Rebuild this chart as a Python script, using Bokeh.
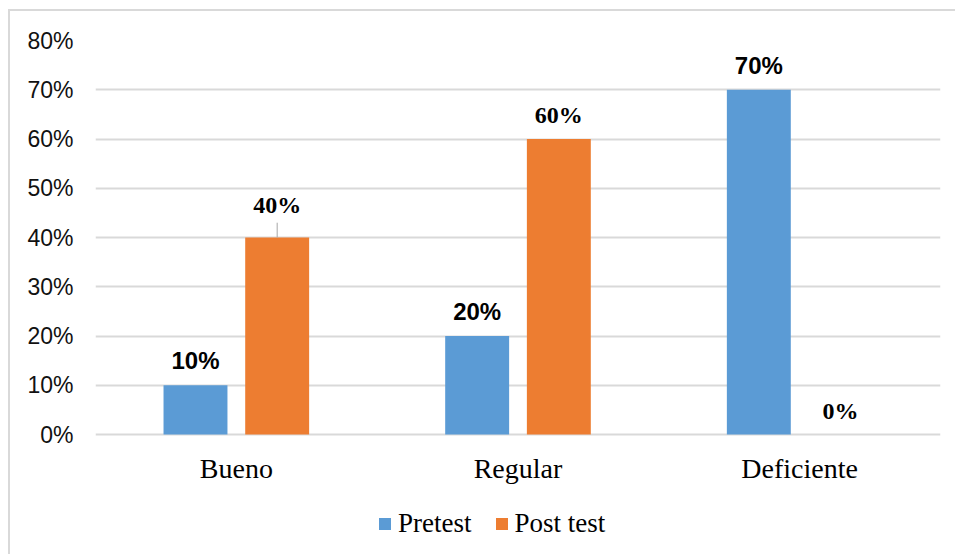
from bokeh.plotting import figure
from bokeh.models import (ColumnDataSource, Range1d, FixedTicker, PrintfTickFormatter,
                          LabelSet, Legend, LegendItem)
from bokeh.transform import dodge
from bokeh.core.properties import value
from bokeh.embed import file_html
from bokeh.resources import INLINE

# ---- data ----
categories = ["Bueno", "Regular", "Deficiente"]
series_names = ["Pretest", "Post test"]
pretest = [10, 20, 70]
post_test = [40, 60, 0]
y_ticks = [0, 10, 20, 30, 40, 50, 60, 70, 80]

BLUE = "#5B9BD5"
ORANGE = "#ED7D31"
SERIF = "Liberation Serif"
SERIF_STACK = "'Liberation Serif', 'Times New Roman', 'DejaVu Serif', serif"
SANS = "Liberation Sans"

# layout: plot area spans 0..80 over 394 px; extra area below 0 holds category labels + legend
px_per_unit = 394 / 80.0
below_px = 122
H = 545
TOP = 29

src = ColumnDataSource(dict(
    cat=categories,
    pre=pretest,
    post=post_test,
    pre_lbl=[f"{v}%" for v in pretest],
    zero=[0] * len(categories),
))

p = figure(x_range=categories, y_range=Range1d(-below_px / px_per_unit, 80),
           width=947, height=H, output_backend="svg", toolbar_location=None,
           min_border_left=85, min_border_right=17, min_border_top=TOP, min_border_bottom=0)
p.styles = {"margin-left": "8px", "margin-top": "9px",
            "border-left": "2px solid #d9d9d9", "border-top": "2px solid #d9d9d9"}
p.outline_line_color = None
p.background_fill_color = "white"
p.border_fill_color = "white"

bw = 0.227
off = 0.145
r_pre = p.vbar(x=dodge("cat", -off, range=p.x_range), top="pre", width=bw, source=src,
               fill_color=BLUE, line_color=None)
r_post = p.vbar(x=dodge("cat", off, range=p.x_range), top="post", width=bw, source=src,
                fill_color=ORANGE, line_color=None)

# leader line for the Bueno post-test label
lead_src = ColumnDataSource(dict(cat=[categories[0]], y0=[post_test[0]], y1=[post_test[0] + 3]))
p.segment(x0=dodge("cat", off, range=p.x_range), y0="y0",
          x1=dodge("cat", off, range=p.x_range), y1="y1",
          source=lead_src, line_color="#a6a6a6", line_width=1)

lab_pre = LabelSet(x=dodge("cat", -off, range=p.x_range), y="pre", text="pre_lbl", source=src,
                   y_offset=16, text_align="center", text_baseline="alphabetic",
                   text_font=value(SANS), text_font_style="bold",
                   text_font_size="24px", text_color="#000000")
post_src = ColumnDataSource(dict(cat=categories, post=post_test,
                                 post_lbl=[f"{v}%" for v in post_test],
                                 yoff=[25, 16, 16]))
lab_post = LabelSet(x=dodge("cat", off, range=p.x_range), y="post", text="post_lbl", source=post_src,
                    y_offset="yoff", text_align="center", text_baseline="alphabetic",
                    text_font=value(SERIF_STACK), text_font_style="bold",
                    text_font_size="24px", text_color="#000000")
p.add_layout(lab_pre)
p.add_layout(lab_post)

# category labels (the category axis)
lab_cat = LabelSet(x="cat", y="zero", text="cat", source=src,
                   y_offset=-43, text_align="center", text_baseline="alphabetic",
                   text_font=value(SERIF), text_font_size="28px",
                   text_color="#000000")
p.add_layout(lab_cat)
p.xaxis.visible = False

# y axis
p.yaxis.ticker = FixedTicker(ticks=y_ticks)
p.yaxis.formatter = PrintfTickFormatter(format="%d%%")
p.yaxis.axis_line_color = None
p.yaxis.major_tick_line_color = None
p.yaxis.minor_tick_line_color = None
p.yaxis.major_label_standoff = 16
p.yaxis.major_label_text_font = SANS
p.yaxis.major_label_text_font_size = "23px"
p.yaxis.major_label_text_color = "#111111"

p.xgrid.grid_line_color = None
p.ygrid.ticker = FixedTicker(ticks=y_ticks)
p.ygrid.grid_line_color = "#d9d9d9"
p.ygrid.grid_line_width = 2

legend = Legend(items=[LegendItem(label=series_names[0], renderers=[r_pre]),
                       LegendItem(label=series_names[1], renderers=[r_post])],
                orientation="horizontal", location=(282, 17),
                border_line_color=None, background_fill_alpha=0,
                padding=0, margin=0, spacing=22, label_standoff=6,
                glyph_width=15, glyph_height=15,
                label_text_font_size="27px",
                label_text_color="#000000")
legend.label_text_font = SERIF_STACK
p.add_layout(legend)

open("out.html", "w").write(file_html(p, INLINE))
